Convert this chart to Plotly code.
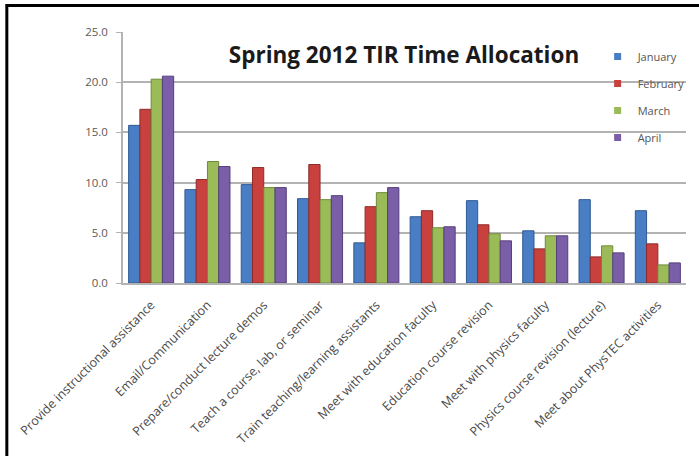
import plotly.graph_objects as go

# Activity categories (x axis)
categories = [
    "Provide instructional assistance",
    "Email/Communication",
    "Prepare/conduct lecture demos",
    "Teach a course, lab, or seminar",
    "Train teaching/learning assistants",
    "Meet with education faculty",
    "Education course revision",
    "Meet with physics faculty",
    "Physics course revision (lecture)",
    "Meet about PhysTEC activities",
]

# Hours per month for each activity
january = [15.7, 9.3, 9.8, 8.4, 4.0, 6.6, 8.2, 5.2, 8.3, 7.2]
february = [17.3, 10.3, 11.5, 11.8, 7.6, 7.2, 5.8, 3.4, 2.6, 3.9]
march = [20.3, 12.1, 9.5, 8.3, 9.0, 5.5, 4.9, 4.7, 3.7, 1.8]
april = [20.6, 11.6, 9.5, 8.7, 9.5, 5.6, 4.2, 4.7, 3.0, 2.0]

months = ["January", "February", "March", "April"]
series = [january, february, march, april]
colors = ["#4a7ec4", "#c9413f", "#9bbb59", "#7b5ea8"]
edges = ["#2f5a93", "#8e2b29", "#6f8a3a", "#553f7a"]

y_ticks = [0, 5, 10, 15, 20, 25]

W, H = 699, 456
L, R, T, B = 123, 9, 32, 173
FONT = "Open Sans, Liberation Sans, sans-serif"

fig = go.Figure()
for i, (name, vals) in enumerate(zip(months, series)):
    fig.add_trace(go.Bar(
        x=categories, y=vals, name=name,
        marker=dict(color=colors[i], line=dict(color=edges[i], width=1)),
        legendgroup=name, showlegend=False,
    ))
# Small square legend keys
for i, name in enumerate(months):
    fig.add_trace(go.Scatter(
        x=[None], y=[None], mode="markers", name=name,
        marker=dict(symbol="square", size=7, color=colors[i]),
        legendgroup=name, showlegend=True,
    ))

pw = W - L - R
ph = H - T - B


def px_x(p):
    return (p - L) / pw


def px_y(p):
    return (H - B - p) / ph


# Black frame along the left and top edges
fig.add_shape(type="line", xref="paper", yref="paper",
              x0=px_x(6), x1=px_x(6), y0=px_y(H + 5), y1=px_y(4),
              line=dict(color="black", width=3))
fig.add_shape(type="line", xref="paper", yref="paper",
              x0=px_x(5), x1=px_x(W + 5), y0=px_y(5.5), y1=px_y(5.5),
              line=dict(color="black", width=3))

fig.update_layout(
    width=W, height=H,
    margin=dict(l=L, r=R, t=T, b=B),
    paper_bgcolor="white",
    plot_bgcolor="white",
    barmode="group",
    bargap=0.2,
    bargroupgap=0.0,
    title=dict(
        text="<b>Spring 2012 TIR Time Allocation</b>",
        x=404 / W, xanchor="center",
        y=1 - 55 / H, yanchor="middle",
        font=dict(family=FONT, size=22.5, color="#1a1a1a"),
    ),
    legend=dict(
        x=px_x(601), xanchor="left",
        y=px_y(42), yanchor="top",
        font=dict(family=FONT, size=11, color="#555555"),
        tracegroupgap=8,
        bgcolor="rgba(0,0,0,0)",
        itemwidth=30,
    ),
    font=dict(family=FONT, color="#555555"),
)

fig.update_yaxes(
    range=[0, 25],
    tickvals=y_ticks,
    tickformat=".1f",
    showgrid=True, gridcolor="#b3b3b3", gridwidth=1.5,
    showline=True, linecolor="#b3b3b3", linewidth=1.5,
    ticks="outside", ticklen=5, tickcolor="#b3b3b3",
    ticklabelstandoff=6,
    tickfont=dict(size=11.5, color="#5a5a5a"),
    zeroline=False,
)
fig.update_xaxes(
    tickangle=-45,
    showline=True, linecolor="#b3b3b3", linewidth=1.5,
    ticks="", ticklabelstandoff=8,
    tickfont=dict(size=12.5, color="#4a4a4a"),
)

fig.write_html("out.html")
